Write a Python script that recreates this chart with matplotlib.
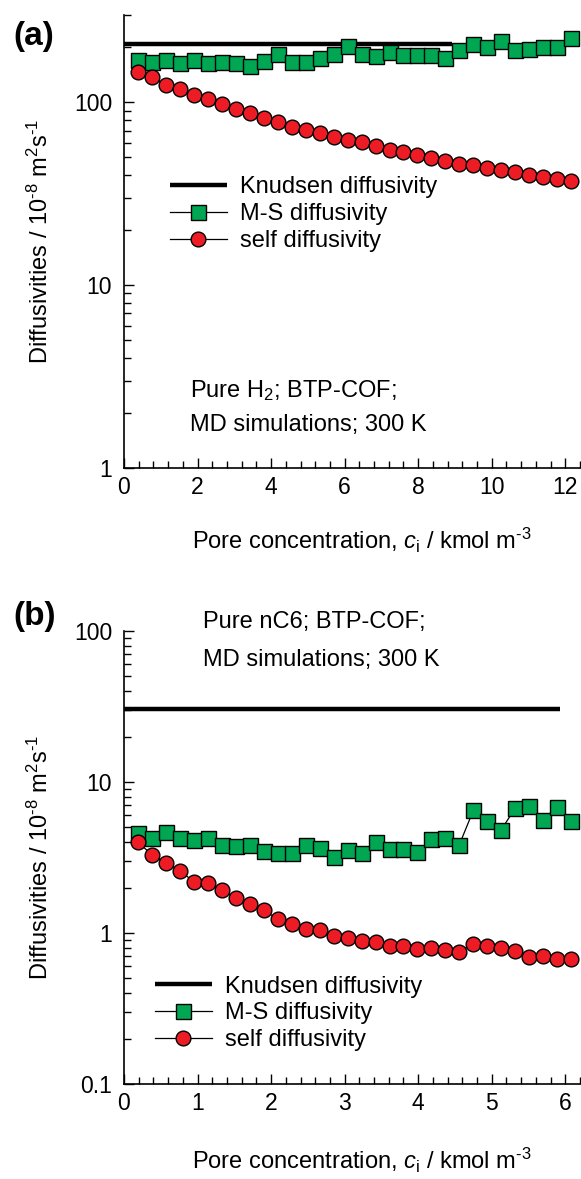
import matplotlib
matplotlib.use("Agg")
import matplotlib.pyplot as plt
import numpy as np
from matplotlib.ticker import FixedLocator, LogLocator, NullFormatter, FuncFormatter

plt.rcParams["font.family"] = ["Liberation Sans", "DejaVu Sans"]
plt.rcParams["mathtext.fontset"] = "custom"
plt.rcParams["mathtext.rm"] = "Liberation Sans"
plt.rcParams["mathtext.it"] = "Liberation Sans:italic"

# (a) pure H2 in BTP-COF
ci_h2 = [0.38, 0.76, 1.14, 1.52, 1.90, 2.28, 2.66, 3.04, 3.42, 3.80, 4.18, 4.56,
         4.94, 5.32, 5.70, 6.08, 6.46, 6.84, 7.22, 7.60, 7.98, 8.36, 8.74, 9.12,
         9.50, 9.88, 10.26, 10.64, 11.02, 11.40, 11.78, 12.16]
ms_h2 = [171, 166, 170, 164, 170, 164, 165, 164, 158, 169, 184, 166,
         165, 175, 184, 202, 184, 178, 188, 182, 182, 182, 175, 194,
         207, 200, 217, 192, 196, 200, 200, 225]
self_h2 = [146, 138, 124, 118, 110, 104, 97.5, 91.9, 87.0, 82.4, 77.6, 73.5,
           70.5, 67.5, 64.8, 62.1, 60.3, 57.8, 54.7, 53.1, 51.4, 49.7, 47.8, 46.2,
           45.2, 43.9, 42.8, 41.6, 40.2, 39.0, 38.2, 37.0]
kn_h2_x = [0, 8.93]
kn_h2 = [208, 208]

# (b) pure nC6 in BTP-COF
ci_c6 = [0.19, 0.38, 0.57, 0.76, 0.95, 1.14, 1.33, 1.52, 1.71, 1.90, 2.09, 2.28,
         2.47, 2.66, 2.85, 3.04, 3.23, 3.42, 3.61, 3.80, 3.99, 4.18, 4.37, 4.56,
         4.75, 4.94, 5.13, 5.32, 5.51, 5.70, 5.89, 6.08]
ms_c6 = [4.59, 4.26, 4.64, 4.26, 4.15, 4.26, 3.85, 3.75, 3.85, 3.47, 3.39, 3.39,
         3.85, 3.66, 3.19, 3.56, 3.39, 3.99, 3.60, 3.60, 3.42, 4.19, 4.26, 3.85,
         6.49, 5.49, 4.83, 6.73, 6.90, 5.63, 6.83, 5.49]
self_c6 = [3.99, 3.30, 2.91, 2.59, 2.18, 2.14, 1.92, 1.70, 1.56, 1.41, 1.24, 1.15,
           1.06, 1.04, 0.95, 0.93, 0.88, 0.87, 0.82, 0.82, 0.78, 0.79, 0.77, 0.75,
           0.85, 0.82, 0.80, 0.76, 0.69, 0.70, 0.67, 0.67]
kn_c6_x = [0, 5.93]
kn_c6 = [30.4, 30.4]

GREEN = "#00a651"
RED = "#ed1c24"
FS = 17


def panel(ax, x, ms, sd, knx, kn, xmax, xmaj, xmin_step, ylim, yticks, leg_xy, notes):
    ax.plot(knx, kn, color="black", lw=3.2, solid_capstyle="butt", label="Knudsen diffusivity", zorder=2)
    ax.plot(x, ms, color="black", lw=0.9, marker="s", ms=10.8, mfc=GREEN, mec="black",
            mew=1.0, label="M-S diffusivity", zorder=3)
    ax.plot(x, sd, color="black", lw=0.9, marker="o", ms=10.6, mfc=RED, mec="black",
            mew=1.0, label="self diffusivity", zorder=4)
    ax.set_yscale("log")
    ax.set_xlim(0, xmax)
    ax.set_ylim(*ylim)
    for s in ("top", "right"):
        ax.spines[s].set_visible(False)
    for s in ("left", "bottom"):
        ax.spines[s].set_linewidth(1.2)
    ax.xaxis.set_major_locator(FixedLocator(xmaj))
    ax.xaxis.set_minor_locator(FixedLocator(np.arange(0, xmax + 1e-6, xmin_step)))
    ax.yaxis.set_major_locator(FixedLocator(yticks))
    ax.yaxis.set_minor_locator(LogLocator(base=10, subs=np.arange(2, 10)))
    ax.yaxis.set_minor_formatter(NullFormatter())
    ax.yaxis.set_major_formatter(FuncFormatter(lambda v, p: f"{v:g}"))
    ax.tick_params(which="both", direction="in", width=1.0, labelsize=16.5)
    ax.tick_params(which="major", length=7.5)
    ax.tick_params(which="minor", length=5)
    ax.tick_params(axis="y", pad=8.5)
    ax.tick_params(axis="x", pad=6)
    ax.legend(loc="upper left", bbox_to_anchor=leg_xy, frameon=False, fontsize=FS,
              borderpad=0, borderaxespad=0, handlelength=2.4, handletextpad=0.55,
              labelspacing=0.2, numpoints=1)
    for (tx, ty, s) in notes:
        ax.text(tx, ty, s, transform=ax.transAxes, fontsize=FS, ha="left", va="baseline")
    ax.text(-0.184, 0.5, r"Diffusivities / 10$^{\text{-8}}$ m$^{2}$s$^{\text{-1}}$",
            transform=ax.transAxes, rotation=90, ha="center", va="center", fontsize=FS)


fig = plt.figure(figsize=(5.81, 11.79), dpi=100)
ax1 = fig.add_axes([0.2134, 0.6031, 0.7849, 0.3842])
ax2 = fig.add_axes([0.2134, 0.0806, 0.7849, 0.3842])

panel(ax1, ci_h2, ms_h2, self_h2, kn_h2_x, kn_h2, 12.4, [0, 2, 4, 6, 8, 10, 12], 0.4,
      (1, 300), [1, 10, 100], (0.101, 0.6435),
      [(0.1447, 0.1574, r"Pure H$_2$; BTP-COF;"), (0.1447, 0.0823, "MD simulations; 300 K")])
panel(ax2, ci_c6, ms_c6, self_c6, kn_c6_x, kn_c6, 6.2, [0, 1, 2, 3, 4, 5, 6], 0.2,
      (0.1, 100), [0.1, 1, 10, 100], (0.068, 0.2389),
      [(0.173, 1.006, "Pure nC6; BTP-COF;"), (0.173, 0.923, "MD simulations; 300 K")])

xlab = r"Pore concentration, $c_\mathrm{i}$ / kmol m$^{\text{-3}}$"
fig.text(362 / 581, 1 - 549 / 1179, xlab, ha="center", va="baseline", fontsize=FS)
fig.text(362 / 581, 1 - 1169 / 1179, xlab, ha="center", va="baseline", fontsize=FS)
fig.text(34 / 581, 1 - 37 / 1179, "(a)", ha="center", va="center", fontsize=24, fontweight="bold")
fig.text(35 / 581, 1 - 617 / 1179, "(b)", ha="center", va="center", fontsize=24, fontweight="bold")

fig.savefig("out.png", dpi=100)
